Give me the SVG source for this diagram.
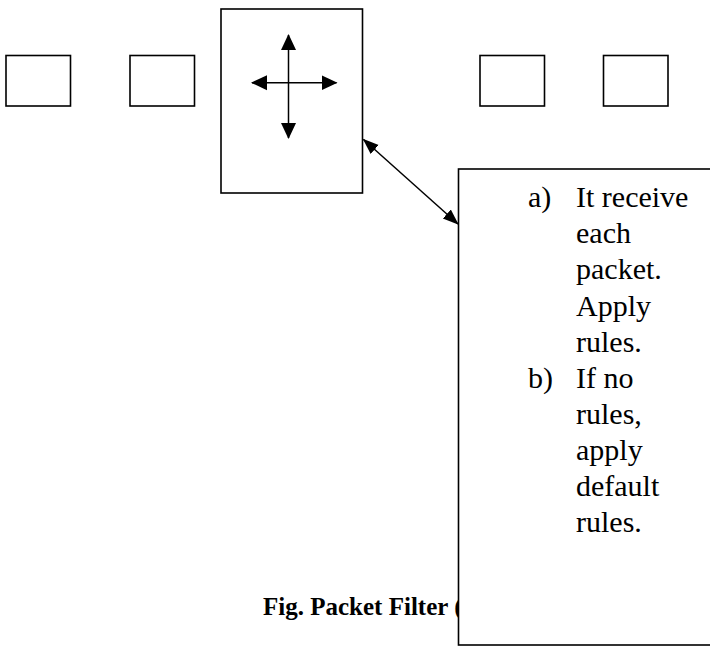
<svg xmlns="http://www.w3.org/2000/svg" width="710" height="646" viewBox="0 0 710 646">
<style>
.box{fill:#fff;stroke:#000;stroke-width:1.6}
.ln{stroke:#000;stroke-width:1.5;fill:none}
.lst{font-family:"Liberation Serif",serif;font-size:30px;fill:#000}
.cap{font-family:"Liberation Serif",serif;font-size:25px;font-weight:bold;fill:#000}
</style>
<defs>
<marker id="ah" markerUnits="userSpaceOnUse" markerWidth="16" markerHeight="16" viewBox="0 0 16 16" refX="15" refY="8" orient="auto-start-reverse">
<path d="M0,0.5 L16,8 L0,15.5 Z" fill="#000"/>
</marker>
<marker id="ah2" markerUnits="userSpaceOnUse" markerWidth="16" markerHeight="14" viewBox="0 0 16 14" refX="15" refY="7" orient="auto-start-reverse">
<path d="M0,1 L16,7 L0,13 Z" fill="#000"/>
</marker>
</defs>
<g id="node-box1"><rect class="box" x="6" y="55.5" width="64.5" height="50.5"/></g>
<g id="node-box2"><rect class="box" x="130" y="55.5" width="64.5" height="50.5"/></g>
<g id="node-filter">
<rect class="box" x="221" y="9" width="141.5" height="184"/>
<line class="ln" x1="288.5" y1="35" x2="288.5" y2="138" marker-start="url(#ah)" marker-end="url(#ah)"/>
<line class="ln" x1="252" y1="82.7" x2="336.5" y2="82.7" marker-start="url(#ah)" marker-end="url(#ah)"/>
</g>
<g id="node-box3"><rect class="box" x="480" y="55.5" width="64.5" height="50.5"/></g>
<g id="node-box4"><rect class="box" x="603.5" y="55.5" width="64.5" height="50.5"/></g>
<g id="caption"><text class="cap" x="263" y="615">Fig. Packet Filter (</text></g>
<g id="connectors">
<line class="ln" x1="363.5" y1="139.5" x2="458" y2="224" marker-start="url(#ah2)" marker-end="url(#ah2)"/>
</g>
<g id="node-rules">
<rect class="box" x="458.5" y="169" width="260" height="476"/>
<g class="lst">
<text x="528" y="207">a)</text>
<text x="576" y="207">It receive</text>
<text x="576" y="243">each</text>
<text x="576" y="279">packet.</text>
<text x="576" y="315.5">Apply</text>
<text x="576" y="351.5">rules.</text>
<text x="528" y="387.5">b)</text>
<text x="576" y="387.5">If no</text>
<text x="576" y="423.5">rules,</text>
<text x="576" y="459.5">apply</text>
<text x="576" y="495.5">default</text>
<text x="576" y="531.5">rules.</text>
</g>
</g>
</svg>
